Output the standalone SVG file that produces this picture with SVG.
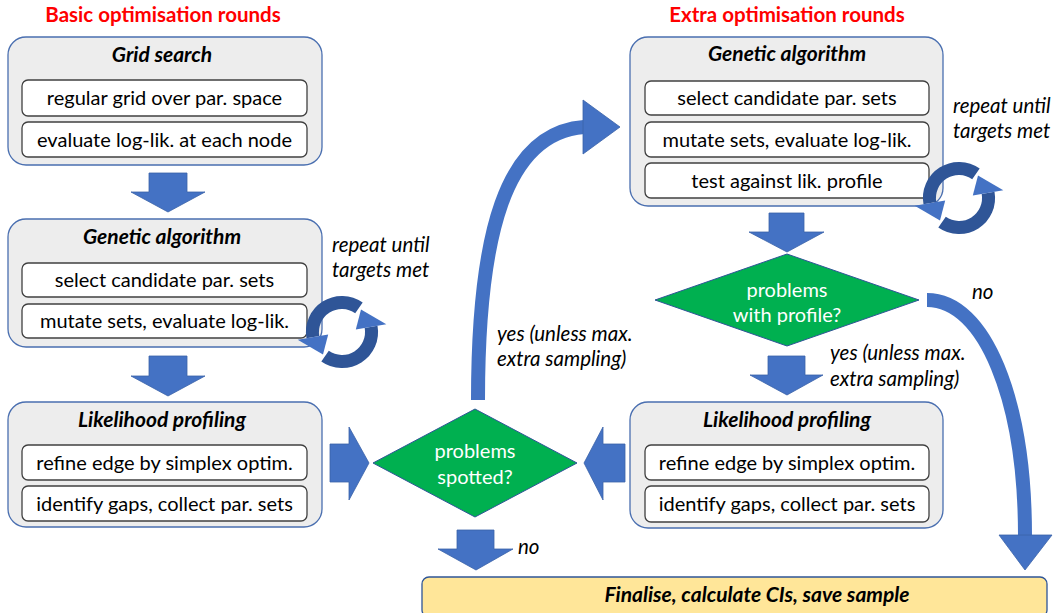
<svg xmlns="http://www.w3.org/2000/svg" xmlns:xlink="http://www.w3.org/1999/xlink" width="1059" height="613" viewBox="0 0 1059 613">
<style>
text{font-family:Lato,"Liberation Sans",sans-serif;}
.hd{font-size:20.5px;font-weight:bold;fill:#FF0000;text-anchor:middle;}
.outer{fill:#EDEDED;stroke:#4A6FB0;stroke-width:1.3;}
.inner{fill:#FFFFFF;stroke:#404040;stroke-width:1.3;}
.ttl{font-size:21px;font-weight:bold;font-style:italic;fill:#000;text-anchor:middle;}
.it{font-size:20px;fill:#000;text-anchor:middle;}
.lbl{font-size:20.5px;font-style:italic;fill:#000;}
.dia{fill:#00B050;stroke:#2F5597;stroke-width:1;}
.dt{font-size:20px;fill:#FFFFFF;text-anchor:middle;}
.blk{fill:#4472C4;stroke:#3A62A8;stroke-width:0.8;}
.curve{fill:none;stroke:#4472C4;stroke-width:14;}
.fin{fill:#FFE699;stroke:#2F5597;stroke-width:1.3;}
</style>
<defs>
<g id="cycle">
<path d="M20.7,-29.5 A36,36 0 0 0 -35.5,6.3 L-22.7,4.0 A23,23 0 0 1 13.2,-18.8 Z" fill="#2F5597"/>
<path d="M-44.3,7.8 L-19.0,22.6 L-13.8,2.4 Z" fill="#4472C4"/>
<g transform="rotate(180)">
<path d="M20.7,-29.5 A36,36 0 0 0 -35.5,6.3 L-22.7,4.0 A23,23 0 0 1 13.2,-18.8 Z" fill="#2F5597"/>
<path d="M-44.3,7.8 L-19.0,22.6 L-13.8,2.4 Z" fill="#4472C4"/>
</g>
</g>
</defs>

<text class="hd" x="163" y="22">Basic optimisation rounds</text>
<text class="hd" x="787" y="22">Extra optimisation rounds</text>

<g id="grid-search">
<rect class="outer" x="8" y="37" width="314" height="128" rx="18"/>
<text class="ttl" x="162" y="62">Grid search</text>
<rect class="inner" x="22" y="80" width="285" height="36" rx="6"/>
<text class="it" x="164.5" y="105">regular grid over par. space</text>
<rect class="inner" x="22" y="122" width="285" height="35" rx="6"/>
<text class="it" x="164.5" y="146.5">evaluate log-lik. at each node</text>
</g>

<g id="ga-basic">
<rect class="outer" x="8" y="219" width="314" height="128" rx="18"/>
<text class="ttl" x="162" y="244">Genetic algorithm</text>
<rect class="inner" x="22" y="263" width="285" height="34" rx="6"/>
<text class="it" x="164.5" y="287">select candidate par. sets</text>
<rect class="inner" x="22" y="304" width="285" height="34" rx="6"/>
<text class="it" x="164.5" y="328">mutate sets, evaluate log-lik.</text>
</g>

<g id="lp-basic">
<rect class="outer" x="8" y="402" width="314" height="125" rx="18"/>
<text class="ttl" x="162" y="427">Likelihood profiling</text>
<rect class="inner" x="22" y="445" width="285" height="35" rx="6"/>
<text class="it" x="164.5" y="469.5">refine edge by simplex optim.</text>
<rect class="inner" x="22" y="486" width="285" height="35" rx="6"/>
<text class="it" x="164.5" y="510.5">identify gaps, collect par. sets</text>
</g>

<g id="ga-extra">
<rect class="outer" x="630" y="37" width="313" height="169" rx="18"/>
<text class="ttl" x="787" y="61">Genetic algorithm</text>
<rect class="inner" x="645" y="81" width="284" height="34" rx="6"/>
<text class="it" x="787" y="105">select candidate par. sets</text>
<rect class="inner" x="645" y="122" width="284" height="35" rx="6"/>
<text class="it" x="787" y="146.5">mutate sets, evaluate log-lik.</text>
<rect class="inner" x="645" y="163" width="284" height="35" rx="6"/>
<text class="it" x="787" y="187.5">test against lik. profile</text>
</g>

<g id="lp-extra">
<rect class="outer" x="630" y="402" width="313" height="126" rx="18"/>
<text class="ttl" x="787" y="427">Likelihood profiling</text>
<rect class="inner" x="645" y="445" width="284" height="35" rx="6"/>
<text class="it" x="787" y="469.5">refine edge by simplex optim.</text>
<rect class="inner" x="645" y="486" width="284" height="36" rx="6"/>
<text class="it" x="787" y="511">identify gaps, collect par. sets</text>
</g>

<g id="problems-spotted">
<polygon class="dia" points="475,409 577,463 475,517 373,463"/>
<text class="dt" x="475" y="458">problems</text>
<text class="dt" x="475" y="484">spotted?</text>
</g>

<g id="problems-profile">
<polygon class="dia" points="787,254 919,300 787,346 655,300"/>
<text class="dt" x="787" y="297">problems</text>
<text class="dt" x="787" y="322">with profile?</text>
</g>

<g id="finalise">
<rect class="fin" x="422" y="577" width="625" height="40" rx="7"/>
<text class="ttl" x="757" y="602">Finalise, calculate CIs, save sample</text>
</g>

<g id="cycle-basic">
<use xlink:href="#cycle" href="#cycle" transform="translate(342,332)"/>
<text class="lbl" x="332" y="252">repeat until</text>
<text class="lbl" x="332" y="277">targets met</text>
</g>

<g id="cycle-extra">
<use xlink:href="#cycle" href="#cycle" transform="translate(959,198)"/>
<text class="lbl" x="953" y="113">repeat until</text>
<text class="lbl" x="953" y="138">targets met</text>
</g>

<g id="connectors">
<polygon class="blk" points="149,173 187,173 187,192 205,192 168,212 131,192 149,192"/>
<polygon class="blk" points="149,356 187,356 187,376 205,376 168,396 131,376 149,376"/>
<polygon class="blk" points="330,444 349,444 349,427 369,463 349,500 349,482 330,482"/>
<polygon class="blk" points="625,444 603,444 603,427 584,463 603,500 603,482 625,482"/>
<polygon class="blk" points="457,530 494,530 494,549 513,549 476,570 438,549 457,549"/>
<polygon class="blk" points="769,213 804,213 804,232 824,232 787,252 749,232 769,232"/>
<polygon class="blk" points="768,356 805,356 805,375 823,375 787,395 750,375 768,375"/>
<path class="curve" d="M478,400 C478,235 505,133 584,127"/>
<polygon class="blk" points="583,100 620,127 583,154"/>
<path class="curve" d="M927,300 C985,300 1025,400 1025,536"/>
<polygon class="blk" points="999,535 1052,535 1025,570"/>
<text class="lbl" x="497" y="341">yes (unless max.</text>
<text class="lbl" x="497" y="366">extra sampling)</text>
<text class="lbl" x="830" y="360">yes (unless max.</text>
<text class="lbl" x="830" y="386">extra sampling)</text>
<text class="lbl" x="972" y="299">no</text>
<text class="lbl" x="518" y="554">no</text>
</g>
</svg>
